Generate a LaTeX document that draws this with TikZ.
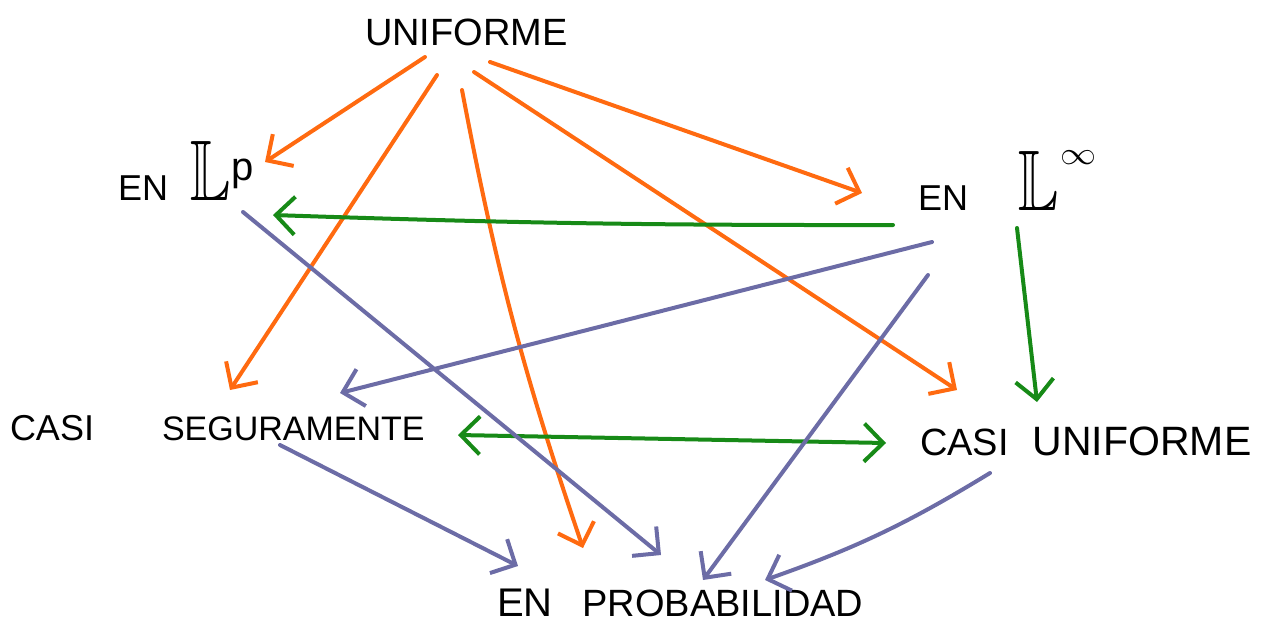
\documentclass[tikz,border=0pt]{standalone}
\usepackage{amssymb}
\usepackage{graphicx}
\usepackage{fontspec}
\setmainfont{Liberation Sans}
\usetikzlibrary{arrows.meta,calc}
\definecolor{orng}{HTML}{FF6A10}
\definecolor{grn}{HTML}{178A17}
\definecolor{purp}{HTML}{6C6CA6}
\newcommand\hw[1]{\fontsize{#1}{#1}\selectfont}
\tikzset{
  lbl/.style={anchor=base west, inner sep=0pt, outer sep=0pt, text=black},
  conn/.style={line width=4pt, line cap=round, line join=round,
    -{Straight Barb[length=19pt,width=38pt]}},
  twoway/.style={line width=4pt, line cap=round, line join=round,
    {Straight Barb[length=19pt,width=38pt]}-{Straight Barb[length=19pt,width=38pt]}},
  oarr/.style={conn, draw=orng},
  garr/.style={conn, draw=grn},
  parr/.style={conn, draw=purp}
}
\begin{document}
\begin{tikzpicture}[x=1pt,y=-1pt]
\useasboundingbox (0,0) rectangle (1266,622);
% nodes
\node[lbl] (lp) at (118,200) {{\hw{36}EN}\hspace{22pt}\scalebox{0.7}[1]{\hw{86}$\mathbb{L}$}\hspace{1pt}\raisebox{20pt}{\hw{40}p}};
\node[lbl] (linf) at (918,210) {{\hw{36}EN}\hspace{50pt}\scalebox{0.7}[1]{\hw{86}$\mathbb{L}$}\hspace{2pt}\raisebox{46pt}{\scalebox{3.6}[3.2]{$\infty$}}};
\node[lbl] (unif) at (365,45) {\hw{38}UNIFORME};
\node[lbl] (cs) at (10,440) {{\hw{36}CASI}\hspace{68pt}{\hw{34}SEGURAMENTE}};
\node[lbl] (cu) at (920,455) {{\hw{38}CASI}\hspace{24pt}{\hw{41}UNIFORME}};
\node[lbl] (prob) at (497,616) {{\hw{40}EN}\hspace{30pt}{\hw{38}PROBABILIDAD}};
% orange: from UNIFORME
\draw[oarr] ($(unif.base west)+(60,12)$) -- ($(lp.base west)+(147,-38)$);
\draw[oarr] ($(unif.base west)+(72,30)$) -- ($(cs.base west)+(220,-50)$);
\draw[oarr] ($(unif.base west)+(97,45)$) to[bend right=4] ($(prob.base west)+(86,-68)$);
\draw[oarr] ($(unif.base west)+(109,27)$) -- ($(cu.base west)+(37,-65)$);
\draw[oarr] ($(unif.base west)+(125,17)$) -- ($(linf.base west)+(-56,-17)$);
% green
\draw[garr] ($(linf.base west)+(-25,15)$) to[bend left=1] ($(lp.base west)+(155,15)$);
\draw[garr] ($(linf.base west)+(99,18)$) -- ($(cu.base west)+(117,-53)$);
\draw[twoway, draw=grn] ($(cs.base west)+(448,-5)$) -- ($(cu.base west)+(-34,-12)$);
% purple
\draw[parr] ($(lp.base west)+(125,12)$) -- ($(prob.base west)+(164,-61)$);
\draw[parr] ($(linf.base west)+(14,32)$) -- ($(cs.base west)+(330,-47)$);
\draw[parr] ($(linf.base west)+(10,65)$) -- ($(prob.base west)+(206,-36)$);
\draw[parr] ($(cs.base west)+(270,5)$) -- ($(prob.base west)+(21,-50)$);
\draw[parr] ($(cu.base west)+(70,18)$) to[bend left=6] ($(prob.base west)+(268,-36)$);
\end{tikzpicture}
\end{document}
